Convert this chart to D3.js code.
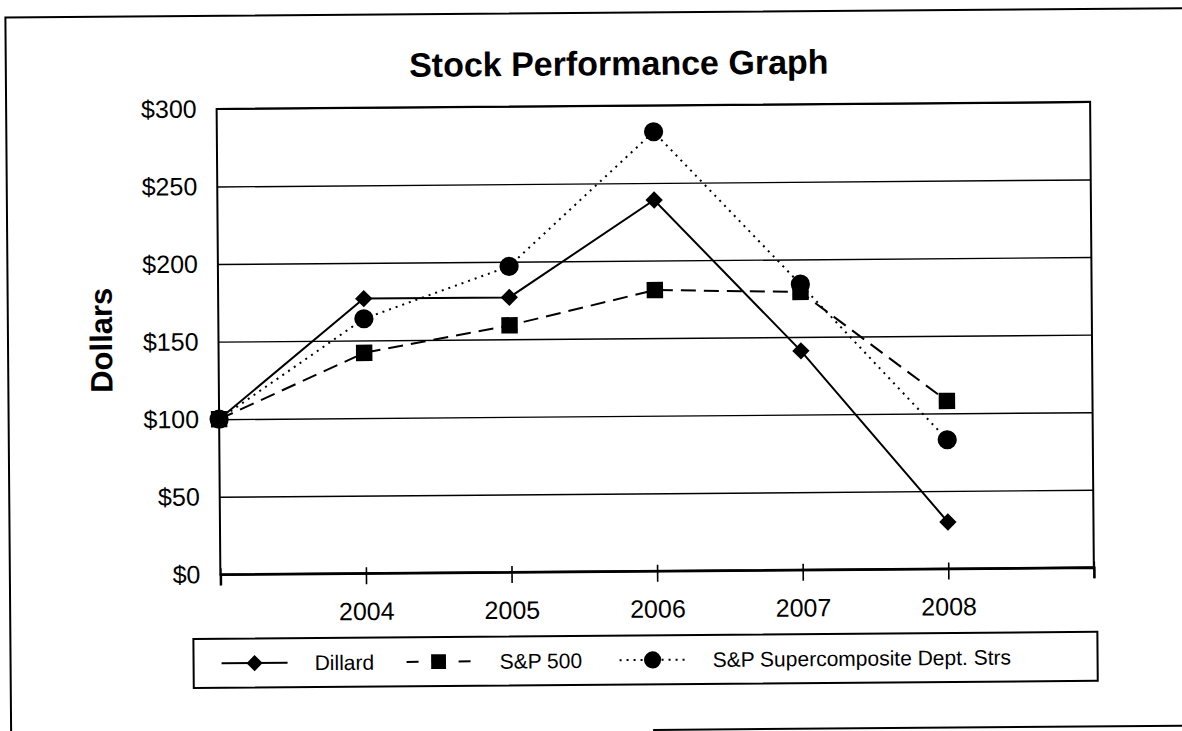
<!DOCTYPE html>
<html>
<head>
<meta charset="utf-8">
<script src="https://cdnjs.cloudflare.com/ajax/libs/d3/7.8.5/d3.min.js"></script>
<style>
  body { margin: 0; background: #fff; }
  svg { display: block; }
  text { font-family: "Liberation Sans", Arial, Helvetica, sans-serif; fill: #000; }
</style>
</head>
<body>
<svg></svg>
<script>
// data
var years = ["2003", "2004", "2005", "2006", "2007", "2008"];
var dillard = [100, 177, 177, 239, 141, 30];
var sp500 = [100, 142, 159, 181, 179, 108];
var superDept = [100, 164, 197, 283, 184, 83];
var yTicks = [0, 50, 100, 150, 200, 250, 300];

var svgWidth = 1182, svgHeight = 731;

var svg = d3.select("svg")
  .attr("width", svgWidth)
  .attr("height", svgHeight);

// the scan is tilted a little, so the whole drawing is turned to match
var root = svg.append("g")
  .attr("transform", "rotate(-0.46, 640, 340)");

// outer frame (bottom-left part is missing on the scan)
root.append("path")
  .attr("d", "M8,760 L8,12.5 L1220,12.5")
  .attr("fill", "none")
  .attr("stroke", "#000")
  .attr("stroke-width", 2);
root.append("line")
  .attr("x1", 650).attr("x2", 1220)
  .attr("y1", 730).attr("y2", 730)
  .attr("stroke", "#000")
  .attr("stroke-width", 2);

var plotLeft = 218.5, plotRight = 1092, plotTop = 105.5, plotBottom = 571;
var plotW = plotRight - plotLeft, plotH = plotBottom - plotTop;

var xScale = d3.scaleLinear()
  .domain([0, 6])
  .range([plotLeft, plotRight]);
var yScale = d3.scaleLinear()
  .domain([0, 300])
  .range([plotBottom, plotTop]);

// title
root.append("text")
  .attr("x", 621)
  .attr("y", 75)
  .attr("text-anchor", "middle")
  .style("font-size", "34px")
  .style("font-weight", "bold")
  .text("Stock Performance Graph");

// y title
root.append("text")
  .attr("transform", "translate(112, 336) rotate(-90)")
  .attr("text-anchor", "middle")
  .style("font-size", "31px")
  .style("font-weight", "bold")
  .text("Dollars");

// gridlines
var grid = d3.axisLeft(yScale)
  .tickValues(yTicks)
  .tickSize(-plotW)
  .tickFormat("");
root.append("g")
  .attr("transform", "translate(" + plotLeft + ",0)")
  .call(grid)
  .call(function (g) {
    g.select(".domain").remove();
    g.selectAll("line").attr("stroke", "#000").attr("stroke-width", 1.4);
  });

// plot border
root.append("rect")
  .attr("x", plotLeft).attr("y", plotTop)
  .attr("width", plotW).attr("height", plotH)
  .attr("fill", "none")
  .attr("stroke", "#000")
  .attr("stroke-width", 2);

// y axis labels
var yAxis = d3.axisLeft(yScale)
  .tickValues(yTicks)
  .tickSize(0)
  .tickPadding(20)
  .tickFormat(function (d) { return "$" + d; });
root.append("g")
  .attr("transform", "translate(" + plotLeft + ",0)")
  .call(yAxis)
  .call(function (g) {
    g.select(".domain").remove();
    g.selectAll("text")
      .style("font-size", "25px")
      .style("font-family", "'Liberation Sans', Arial, sans-serif")
      .attr("fill", "#000");
  });

// x axis
var xAxis = d3.axisBottom(xScale)
  .tickValues(d3.range(0, 7))
  .tickSize(11)
  .tickPadding(18)
  .tickFormat(function (i) { return (i >= 1 && i < years.length) ? years[i] : ""; });
root.append("g")
  .attr("transform", "translate(0," + plotBottom + ")")
  .call(xAxis)
  .call(function (g) {
    g.select(".domain").attr("stroke", "#000").attr("stroke-width", 2.5);
    g.selectAll("line").attr("stroke", "#000").attr("stroke-width", 1.6).attr("y1", -6);
    g.selectAll("text")
      .style("font-size", "25px")
      .style("font-family", "'Liberation Sans', Arial, sans-serif")
      .attr("fill", "#000");
  });

var line = d3.line()
  .x(function (d, i) { return xScale(i); })
  .y(function (d) { return yScale(d); });

// diamond = square turned 45 degrees
var series = [
  { name: "S&P Supercomposite Dept. Strs", values: superDept, dash: "2,5", shape: d3.symbolCircle, size: 290, turn: 0 },
  { name: "S&P 500", values: sp500, dash: "15,8", shape: d3.symbolSquare, size: 270, turn: 0 },
  { name: "Dillard", values: dillard, dash: null, shape: d3.symbolSquare, size: 150, turn: 45 }
];

series.forEach(function (s) {
  root.append("path")
    .datum(s.values)
    .attr("d", line)
    .attr("fill", "none")
    .attr("stroke", "#000")
    .attr("stroke-width", 2)
    .attr("stroke-dasharray", s.dash);
  root.selectAll(null)
    .data(s.values)
    .enter()
    .append("path")
    .attr("transform", function (d, i) {
      return "translate(" + xScale(i) + "," + yScale(d) + ") rotate(" + s.turn + ")";
    })
    .attr("d", d3.symbol().type(s.shape).size(s.size))
    .attr("fill", "#000");
});

// legend
var legend = root.append("g");
legend.append("rect")
  .attr("x", 191).attr("y", 635.5)
  .attr("width", 904).attr("height", 49)
  .attr("fill", "#fff")
  .attr("stroke", "#000")
  .attr("stroke-width", 2);

var ly = 660;
var legendItems = [
  { name: "Dillard", cx: 252, x1: 219, x2: 285, dash: null, shape: d3.symbolSquare, size: 130, turn: 45, tx: 312 },
  { name: "S&P 500", cx: 436, x1: 404, x2: 470, dash: "12,20,0,20,12", shape: d3.symbolSquare, size: 220, turn: 0, tx: 497 },
  { name: "S&P Supercomposite Dept. Strs", cx: 650, x1: 617, x2: 684, dash: "2,5", shape: d3.symbolCircle, size: 230, turn: 0, tx: 710 }
];
legendItems.forEach(function (it) {
  legend.append("line")
    .attr("x1", it.x1).attr("x2", it.x2)
    .attr("y1", ly).attr("y2", ly)
    .attr("stroke", "#000")
    .attr("stroke-width", 2)
    .attr("stroke-dasharray", it.dash);
  legend.append("path")
    .attr("transform", "translate(" + it.cx + "," + ly + ") rotate(" + it.turn + ")")
    .attr("d", d3.symbol().type(it.shape).size(it.size))
    .attr("fill", "#000");
  legend.append("text")
    .attr("x", it.tx)
    .attr("y", ly + 7.5)
    .style("font-size", "21px")
    .text(it.name);
});
</script>
</body>
</html>
